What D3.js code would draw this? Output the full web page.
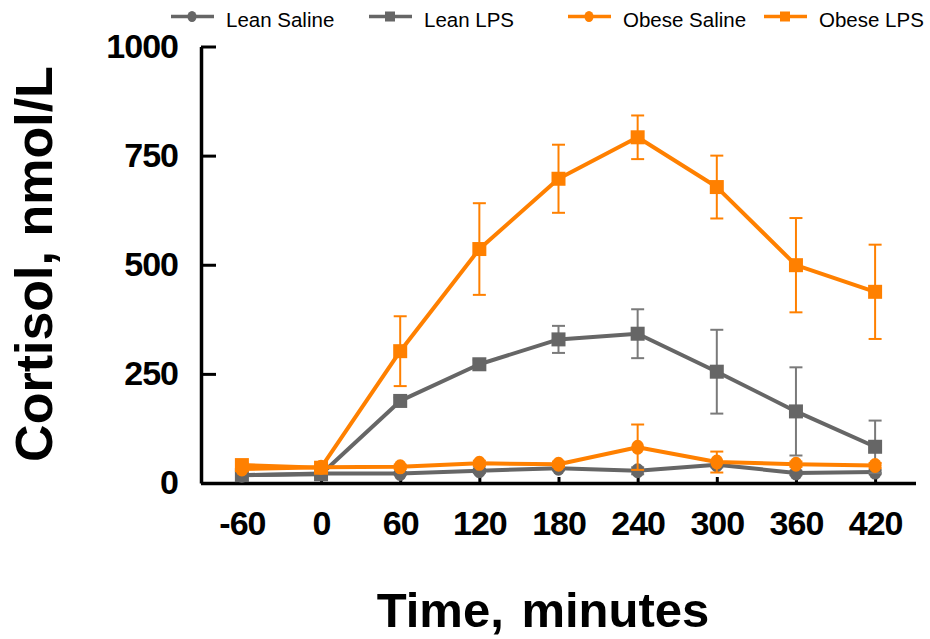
<!DOCTYPE html>
<html>
<head>
<meta charset="utf-8">
<script src="https://cdn.jsdelivr.net/npm/d3@7"></script>
<style>
    html, body { margin: 0; padding: 0; background: #fff; }
    #graph { width: 930px; height: 639px; }
    text { font-family: "Liberation Sans", Arial, sans-serif; }
</style>
</head>
<body>
<div id="graph"></div>
<script>
// sampling times (minutes)
const times = [-60, 0, 60, 120, 180, 240, 300, 360, 420];

// cortisol, nmol/L (mean and SEM)
const leanSaline = [18, 22, 22, 28, 34, 28, 42, 23, 25];
const leanSalineErr = [3, 3, 3, 5, 5, 8, 6, 5, 5];
const leanLPS = [18, 20, 188, 272, 329, 342, 255, 164, 83];
const leanLPSErr = [3, 3, 8, 10, 31, 56, 96, 101, 60];
const obeseSaline = [32, 36, 37, 45, 43, 82, 48, 43, 40];
const obeseSalineErr = [4, 4, 5, 6, 6, 52, 24, 6, 6];
const obeseLPS = [41, 35, 302, 536, 697, 792, 678, 499, 438];
const obeseLPSErr = [5, 5, 80, 105, 78, 50, 72, 108, 108];

const seriesNames = ["Lean Saline", "Lean LPS", "Obese Saline", "Obese LPS"];
const yTicks = [0, 250, 500, 750, 1000];

const orange = "#ff8000";
const grey = "#666666";

const series = [
    { name: seriesNames[0], values: leanSaline, err: leanSalineErr, color: grey, errColor: "#7a7a7a", shape: "circle" },
    { name: seriesNames[1], values: leanLPS, err: leanLPSErr, color: grey, errColor: "#7a7a7a", shape: "square" },
    { name: seriesNames[2], values: obeseSaline, err: obeseSalineErr, color: orange, errColor: orange, shape: "circle" },
    { name: seriesNames[3], values: obeseLPS, err: obeseLPSErr, color: orange, errColor: orange, shape: "square" }
];

const width = 930;
const height = 639;

var svg = d3.select("#graph")
    .append("svg")
    .attr("width", width)
    .attr("height", height)
    .attr("viewBox", [0, 0, width, height]);

var x = d3.scaleLinear().domain([-91, 451]).range([201, 916]);
var y = d3.scaleLinear().domain([0, 1000]).range([483, 46.5]);

// axes (plain numbers, hyphen minus like the original)
var plain = function (d) { return String(d); };

var yAxis = svg.append("g")
    .attr("transform", "translate(201,0)")
    .call(d3.axisLeft(y).tickValues(yTicks).tickFormat(plain).tickSizeInner(-15).tickSizeOuter(0).tickPadding(23));

var xAxis = svg.append("g")
    .attr("transform", "translate(0,483)")
    .call(d3.axisBottom(x).tickValues(times).tickFormat(plain).tickSizeInner(-6).tickSizeOuter(0).tickPadding(28));

[yAxis, xAxis].forEach(function (ax) {
    ax.select(".domain").attr("stroke", "#000").attr("stroke-width", 3.5);
    ax.selectAll(".tick line").attr("stroke", "#000").attr("stroke-width", 3);
    ax.selectAll(".tick text")
        .attr("fill", "#000")
        .style("font-size", "34px")
        .style("font-weight", "bold")
        .style("letter-spacing", "-1px")
        .style("font-family", "'Liberation Sans', Arial, sans-serif");
});
xAxis.select(".domain").attr("d", "M201,0.5H916");

// axis titles
svg.append("text")
    .attr("transform", "translate(52,264) rotate(-90)")
    .attr("text-anchor", "middle")
    .style("font-size", "52px")
    .style("font-weight", "bold")
    .text("Cortisol, nmol/L");

svg.append("text")
    .attr("x", 543)
    .attr("y", 627)
    .attr("text-anchor", "middle")
    .style("font-size", "49px")
    .style("font-weight", "bold")
    .style("word-spacing", "4px")
    .text("Time, minutes");

var line = d3.line()
    .x(function (d) { return x(d.t); })
    .y(function (d) { return y(d.v); });

function drawMarker(g, shape, cx, cy, size, color) {
    if (shape === "square") {
        g.append("rect")
            .attr("x", cx - size / 2)
            .attr("y", cy - size / 2)
            .attr("width", size)
            .attr("height", size)
            .style("fill", color);
    } else {
        g.append("ellipse")
            .attr("cx", cx)
            .attr("cy", cy)
            .attr("rx", size / 2 - 0.5)
            .attr("ry", size / 2 + 0.5)
            .style("fill", color);
    }
}

var plot = svg.append("g");

series.forEach(function (s) {
    var pts = times.map(function (t, i) { return { t: t, v: s.values[i], e: s.err[i] }; });
    var g = plot.append("g");

    // error bars
    pts.forEach(function (p) {
        var cx = x(p.t);
        var y1 = y(p.v + p.e);
        var y2 = y(p.v - p.e);
        g.append("line")
            .attr("x1", cx).attr("x2", cx)
            .attr("y1", y1).attr("y2", y2)
            .style("stroke", s.errColor)
            .style("stroke-width", 2);
        [y1, y2].forEach(function (yy) {
            g.append("line")
                .attr("x1", cx - 6.5).attr("x2", cx + 6.5)
                .attr("y1", yy).attr("y2", yy)
                .style("stroke", s.errColor)
                .style("stroke-width", 2);
        });
    });

    g.append("path")
        .datum(pts)
        .attr("d", line)
        .style("fill", "none")
        .style("stroke", s.color)
        .style("stroke-width", 4)
        .style("stroke-linejoin", "round");

    pts.forEach(function (p) {
        drawMarker(g, s.shape, x(p.t), y(p.v), 14, s.color);
    });
});

// legend
const legendLineX = [171, 369, 568, 764];
var legend = svg.append("g");
series.forEach(function (s, i) {
    var lx = legendLineX[i];
    legend.append("line")
        .attr("x1", lx).attr("x2", lx + 43)
        .attr("y1", 16.5).attr("y2", 16.5)
        .style("stroke", s.color)
        .style("stroke-width", 3.5);
    drawMarker(legend, s.shape, lx + 21, 16.5, 10, s.color);
    legend.append("text")
        .attr("x", lx + 55)
        .attr("y", 27)
        .style("font-size", "20.5px")
        .attr("fill", "#000")
        .text(s.name);
});
</script>
</body>
</html>
